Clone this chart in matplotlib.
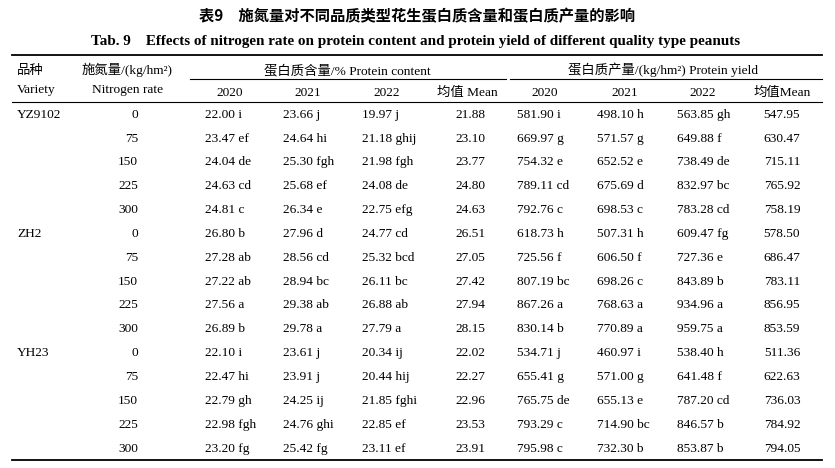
import matplotlib
matplotlib.use("Agg")
import matplotlib.pyplot as plt
from matplotlib.lines import Line2D

W, H = 835, 468

varieties = ["YZ9102", "ZH2", "YH23"]
n_rates = [0, 75, 150, 225, 300]

pc_2020 = [22.00, 23.47, 24.04, 24.63, 24.81, 26.80, 27.28, 27.22, 27.56, 26.89,
           22.10, 22.47, 22.79, 22.98, 23.20]
pc_2020_sig = ["i", "ef", "de", "cd", "c", "b", "ab", "ab", "a", "b",
               "i", "hi", "gh", "fgh", "fg"]
pc_2021 = [23.66, 24.64, 25.30, 25.68, 26.34, 27.96, 28.56, 28.94, 29.38, 29.78,
           23.61, 23.91, 24.25, 24.76, 25.42]
pc_2021_sig = ["j", "hi", "fgh", "ef", "e", "d", "cd", "bc", "ab", "a",
               "j", "j", "ij", "ghi", "fg"]
pc_2022 = [19.97, 21.18, 21.98, 24.08, 22.75, 24.77, 25.32, 26.11, 26.88, 27.79,
           20.34, 20.44, 21.85, 22.85, 23.11]
pc_2022_sig = ["j", "ghij", "fgh", "de", "efg", "cd", "bcd", "bc", "ab", "a",
               "ij", "hij", "fghi", "ef", "ef"]
pc_mean = [21.88, 23.10, 23.77, 24.80, 24.63, 26.51, 27.05, 27.42, 27.94, 28.15,
           22.02, 22.27, 22.96, 23.53, 23.91]

py_2020 = [581.90, 669.97, 754.32, 789.11, 792.76, 618.73, 725.56, 807.19, 867.26, 830.14,
           534.71, 655.41, 765.75, 793.29, 795.98]
py_2020_sig = ["i", "g", "e", "cd", "c", "h", "f", "bc", "a", "b",
               "j", "g", "de", "c", "c"]
py_2021 = [498.10, 571.57, 652.52, 675.69, 698.53, 507.31, 606.50, 698.26, 768.63, 770.89,
           460.97, 571.00, 655.13, 714.90, 732.30]
py_2021_sig = ["h", "g", "e", "d", "c", "h", "f", "c", "a", "a",
               "i", "g", "e", "bc", "b"]
py_2022 = [563.85, 649.88, 738.49, 832.97, 783.28, 609.47, 727.36, 843.89, 934.96, 959.75,
           538.40, 641.48, 787.20, 846.57, 853.87]
py_2022_sig = ["gh", "f", "de", "bc", "cd", "fg", "e", "b", "a", "a",
               "h", "f", "cd", "b", "b"]
py_mean = [547.95, 630.47, 715.11, 765.92, 758.19, 578.50, 686.47, 783.11, 856.95, 853.59,
           511.36, 622.63, 736.03, 784.92, 794.05]

title_cn = "表9\u2003施氮量对不同品质类型花生蛋白质含量和蛋白质产量的影响"
title_en = "Tab. 9\u2003Effects of nitrogen rate on protein content and protein yield of different quality type peanuts"

FAM = ["Liberation Serif", "Noto Sans CJK SC", "DejaVu Sans"]
FS = 9.6
BL = 4.4  # offset from visual centre to baseline, px

fig = plt.figure(figsize=(W / 100, H / 100), dpi=100)
fig.patch.set_facecolor("white")


def fx(x):
    return x / W


def fy(y):
    return 1 - y / H


def txt(x, y, s, ha="left", size=FS, weight="normal", family=FAM, bl=BL):
    fig.text(fx(x), fy(y + bl), s, ha=ha, va="baseline", fontsize=size,
             fontweight=weight, family=family, color="black")


def hline(x0, x1, y, lw):
    fig.add_artist(Line2D([fx(x0), fx(x1)], [fy(y), fy(y)], lw=lw, color="black",
                          transform=fig.transFigure))


# titles
txt(417, 16, title_cn, ha="center", size=11.0, weight="bold",
    family=["Noto Sans CJK SC", "DejaVu Sans"], bl=4.8)
txt(416, 40, title_en, ha="center", size=10.9, weight="bold", bl=5.0)

# rules
hline(12, 822, 54.5, 1.3)
hline(190, 506, 78.5, 0.8)
hline(510, 822, 78.5, 0.8)
hline(12, 822, 102, 0.8)
hline(12, 822, 460, 1.3)

# header
hy1, hy2 = 70, 89
txt(17, hy1, "品种")
txt(127, hy1, "施氮量/(kg/hm²)", ha="center")
txt(347, hy1, "蛋白质含量/% Protein content", ha="center")
txt(663, hy1, "蛋白质产量/(kg/hm²) Protein yield", ha="center")
txt(17, hy2, "Variety")
txt(128, hy2, "Nitrogen rate", ha="center")
for xc, s in [(230, "2020"), (308, "2021"), (387, "2022"), (467, "均值 Mean"),
              (545, "2020"), (625, "2021"), (703, "2022"), (782, "均值Mean")]:
    txt(xc, hy2 + 2.5, s, ha="center")

# body
y0, dy = 113.3, 23.85
for i in range(len(pc_2020)):
    y = y0 + i * dy
    if i % len(n_rates) == 0:
        txt(17, y, varieties[i // len(n_rates)])
    txt(138, y, str(n_rates[i % len(n_rates)]), ha="right")
    txt(205, y, f"{pc_2020[i]:.2f} {pc_2020_sig[i]}")
    txt(283, y, f"{pc_2021[i]:.2f} {pc_2021_sig[i]}")
    txt(362, y, f"{pc_2022[i]:.2f} {pc_2022_sig[i]}")
    txt(470, y, f"{pc_mean[i]:.2f}", ha="center")
    txt(517, y, f"{py_2020[i]:.2f} {py_2020_sig[i]}")
    txt(597, y, f"{py_2021[i]:.2f} {py_2021_sig[i]}")
    txt(677, y, f"{py_2022[i]:.2f} {py_2022_sig[i]}")
    txt(782, y, f"{py_mean[i]:.2f}", ha="center")

fig.savefig("out.png", dpi=100, facecolor="white")
